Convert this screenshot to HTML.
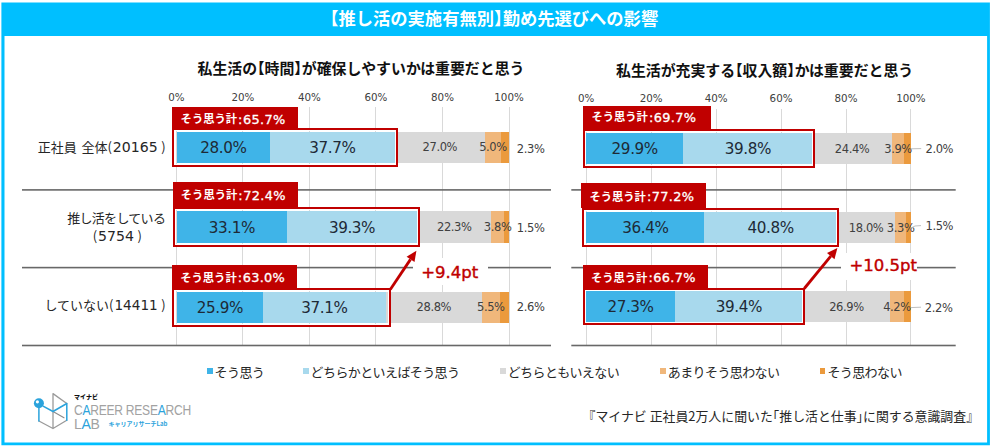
<!DOCTYPE html>
<html lang="ja"><head><meta charset="utf-8"><title>推し活の実施有無別 勤め先選びへの影響</title>
<style>
html,body{margin:0;padding:0;background:#fff}
body{width:993px;height:448px;overflow:hidden;position:relative;font-family:"Liberation Sans","Noto Sans CJK JP",sans-serif}
#c{position:absolute;left:0;top:0;width:993px;height:448px;overflow:hidden}
#c>div,#c>svg{position:absolute}
.t{white-space:nowrap;line-height:1;color:#404040}
.title{font-family:"Noto Sans CJK JP",sans-serif;font-weight:700;font-size:17.3px;color:#fff;font-feature-settings:"halt"}
.sub{font-family:"Noto Sans CJK JP",sans-serif;font-weight:700;font-size:14.9px;color:#111;font-feature-settings:"halt"}
.ax{font-family:"DejaVu Sans","Liberation Sans",sans-serif;font-size:10.3px;color:#404040}
.big{font-family:"DejaVu Sans","Liberation Sans",sans-serif;font-size:15.2px;letter-spacing:-0.4px;color:#1E2A36}
.sm{font-family:"DejaVu Sans","Liberation Sans",sans-serif;font-size:11.5px;letter-spacing:-0.4px;color:#404040}
.lab{font-family:"DejaVu Sans","Noto Sans CJK JP",sans-serif;font-weight:400;font-size:12.9px;color:#fff;-webkit-text-stroke:0.32px #fff}
.lab em{font-style:normal;letter-spacing:0.3px;margin-left:0.6px}
.lab span{font-family:"Noto Sans CJK JP",sans-serif;font-weight:700;font-size:11.3px;-webkit-text-stroke:0;margin-right:1px;position:relative;top:-0.5px}
.delta{font-family:"DejaVu Sans","Liberation Sans",sans-serif;font-weight:400;font-size:16.5px;color:#C00000;-webkit-text-stroke:0.4px #C00000}
.row{font-family:"Noto Sans CJK JP",sans-serif;font-size:13px;color:#262626}
.row{word-spacing:1.8px}
.row b{font-family:"DejaVu Sans","Liberation Sans",sans-serif;font-weight:400;font-size:14.1px}
.row i{font-style:normal;margin-right:1px}
.row u{text-decoration:none;margin-left:3.6px}
.leg{font-family:"Noto Sans CJK JP",sans-serif;font-size:13px;letter-spacing:-0.6px;color:#262626}
.foot{font-family:"Noto Sans CJK JP",sans-serif;font-size:12.9px;color:#262626;font-feature-settings:"halt"}
.mynavi{font-family:"Noto Sans CJK JP",sans-serif;font-weight:900;font-size:6px;color:#111}
.crl{font-size:14px;color:#A2A2A2;letter-spacing:-0.3px}
.crl span{display:inline-block;transform:scaleX(0.862);transform-origin:0 50%}
.crl i{font-style:normal;color:#2BA3DC}
.crlab{font-family:"Noto Sans CJK JP",sans-serif;font-weight:700;font-size:6px;color:#2BA3DC}
</style></head>
<body><div id="c">
<svg style="left:0;top:0" width="993" height="448" viewBox="0 0 993 448"><path fill="#00BFFF" fill-rule="evenodd" d="M1.4 2.5H989.9V445.3H1.4Z M4.5 36H987.1V442.4H4.5Z"/></svg>
<div class="t title" style="left:494.00px;top:18.00px;transform:translate(-50%,-50%);">【推し活の実施有無別】勤め先選びへの影響</div>
<div class="t sub" style="left:361.00px;top:68.00px;transform:translate(-50%,-50%);">私生活の【時間】が確保しやすいかは重要だと思う</div>
<div class="t sub" style="left:764.60px;top:70.40px;transform:translate(-50%,-50%);">私生活が充実する【収入額】かは重要だと思う</div>
<div style="left:175.80px;top:107.20px;width:1.00px;height:238.30px;background:#D9D9D9;"></div>
<div class="t ax" style="left:176.30px;top:96.80px;transform:translate(-50%,-50%);">0%</div>
<div style="left:242.35px;top:107.20px;width:1.00px;height:238.30px;background:#D9D9D9;"></div>
<div class="t ax" style="left:242.85px;top:96.80px;transform:translate(-50%,-50%);">20%</div>
<div style="left:308.90px;top:107.20px;width:1.00px;height:238.30px;background:#D9D9D9;"></div>
<div class="t ax" style="left:309.40px;top:96.80px;transform:translate(-50%,-50%);">40%</div>
<div style="left:375.45px;top:107.20px;width:1.00px;height:238.30px;background:#D9D9D9;"></div>
<div class="t ax" style="left:375.95px;top:96.80px;transform:translate(-50%,-50%);">60%</div>
<div style="left:442.00px;top:107.20px;width:1.00px;height:238.30px;background:#D9D9D9;"></div>
<div class="t ax" style="left:442.50px;top:96.80px;transform:translate(-50%,-50%);">80%</div>
<div style="left:508.55px;top:107.20px;width:1.00px;height:238.30px;background:#D9D9D9;"></div>
<div class="t ax" style="left:509.05px;top:96.80px;transform:translate(-50%,-50%);">100%</div>
<svg style="left:0;top:0" width="993" height="448" viewBox="0 0 993 448"><g fill="#686868"><rect x="22" y="189.10" width="529.0" height="1.6"/><rect x="22" y="266.80" width="529.0" height="1.6"/><rect x="22" y="344.70" width="529.0" height="1.6"/></g></svg>
<div style="left:413.00px;top:258.00px;width:75.00px;height:27.00px;background:#fff;"></div>
<div style="left:172.40px;top:106.60px;width:126.00px;height:22.80px;background:#C00000;"></div>
<div class="t lab" style="left:180.60px;top:119.65px;transform:translate(0,-50%);"><span>そう思う計</span>:<em>65.7%</em></div>
<div style="left:176.90px;top:132.00px;width:92.96px;height:30.60px;background:#3FB4E8;"></div>
<div style="left:269.86px;top:132.00px;width:125.16px;height:30.60px;background:#A8D9ED;"></div>
<div style="left:395.02px;top:132.00px;width:89.64px;height:30.60px;background:#D9D9D9;"></div>
<div style="left:484.66px;top:132.00px;width:16.60px;height:30.60px;background:#F0B77B;"></div>
<div style="left:501.26px;top:132.00px;width:7.64px;height:30.60px;background:#EB9A3D;"></div>
<div style="left:172.40px;top:128.40px;width:225.50px;height:38.50px;border:2.6px solid #C00000;box-sizing:border-box;box-shadow:inset 0 0 0 1px #fff;"></div>
<div class="t big" style="left:223.38px;top:149.10px;transform:translate(-50%,-50%);">28.0%</div>
<div class="t big" style="left:332.44px;top:149.10px;transform:translate(-50%,-50%);">37.7%</div>
<div class="t sm" style="left:439.84px;top:147.90px;transform:translate(-50%,-50%);">27.0%</div>
<div class="t sm" style="left:492.96px;top:147.90px;transform:translate(-50%,-50%);">5.0%</div>
<div class="t sm" style="left:516.80px;top:150.40px;transform:translate(0,-50%);">2.3%</div>
<div style="left:172.60px;top:182.20px;width:125.20px;height:25.60px;background:#C00000;"></div>
<div class="t lab" style="left:180.80px;top:195.80px;transform:translate(0,-50%);"><span>そう思う計</span>:<em>72.4%</em></div>
<div style="left:176.90px;top:211.10px;width:109.89px;height:32.20px;background:#3FB4E8;"></div>
<div style="left:286.79px;top:211.10px;width:130.48px;height:32.20px;background:#A8D9ED;"></div>
<div style="left:417.27px;top:211.10px;width:74.04px;height:32.20px;background:#D9D9D9;"></div>
<div style="left:491.30px;top:211.10px;width:12.62px;height:32.20px;background:#F0B77B;"></div>
<div style="left:503.92px;top:211.10px;width:4.98px;height:32.20px;background:#EB9A3D;"></div>
<div style="left:172.60px;top:206.80px;width:247.40px;height:40.40px;border:2.6px solid #C00000;box-sizing:border-box;box-shadow:inset 0 0 0 1px #fff;"></div>
<div class="t big" style="left:231.85px;top:229.00px;transform:translate(-50%,-50%);">33.1%</div>
<div class="t big" style="left:352.03px;top:229.00px;transform:translate(-50%,-50%);">39.3%</div>
<div class="t sm" style="left:454.29px;top:227.80px;transform:translate(-50%,-50%);">22.3%</div>
<div class="t sm" style="left:497.61px;top:227.80px;transform:translate(-50%,-50%);">3.8%</div>
<div class="t sm" style="left:516.80px;top:229.00px;transform:translate(0,-50%);">1.5%</div>
<div style="left:172.00px;top:264.50px;width:125.20px;height:24.90px;background:#C00000;"></div>
<div class="t lab" style="left:180.20px;top:278.20px;transform:translate(0,-50%);"><span>そう思う計</span>:<em>63.0%</em></div>
<div style="left:176.90px;top:292.20px;width:85.99px;height:30.80px;background:#3FB4E8;"></div>
<div style="left:262.89px;top:292.20px;width:123.17px;height:30.80px;background:#A8D9ED;"></div>
<div style="left:386.06px;top:292.20px;width:95.62px;height:30.80px;background:#D9D9D9;"></div>
<div style="left:481.68px;top:292.20px;width:18.26px;height:30.80px;background:#F0B77B;"></div>
<div style="left:499.94px;top:292.20px;width:8.96px;height:30.80px;background:#EB9A3D;"></div>
<div style="left:172.00px;top:288.40px;width:218.90px;height:38.70px;border:2.6px solid #C00000;box-sizing:border-box;box-shadow:inset 0 0 0 1px #fff;"></div>
<div class="t big" style="left:219.89px;top:309.40px;transform:translate(-50%,-50%);">25.9%</div>
<div class="t big" style="left:324.47px;top:309.40px;transform:translate(-50%,-50%);">37.1%</div>
<div class="t sm" style="left:433.87px;top:308.20px;transform:translate(-50%,-50%);">28.8%</div>
<div class="t sm" style="left:490.81px;top:308.20px;transform:translate(-50%,-50%);">5.5%</div>
<div class="t sm" style="left:516.80px;top:308.10px;transform:translate(0,-50%);">2.6%</div>
<div style="left:585.70px;top:108.60px;width:1.00px;height:236.90px;background:#D9D9D9;"></div>
<div class="t ax" style="left:586.20px;top:98.30px;transform:translate(-50%,-50%);">0%</div>
<div style="left:650.65px;top:108.60px;width:1.00px;height:236.90px;background:#D9D9D9;"></div>
<div class="t ax" style="left:651.15px;top:98.30px;transform:translate(-50%,-50%);">20%</div>
<div style="left:715.60px;top:108.60px;width:1.00px;height:236.90px;background:#D9D9D9;"></div>
<div class="t ax" style="left:716.10px;top:98.30px;transform:translate(-50%,-50%);">40%</div>
<div style="left:780.55px;top:108.60px;width:1.00px;height:236.90px;background:#D9D9D9;"></div>
<div class="t ax" style="left:781.05px;top:98.30px;transform:translate(-50%,-50%);">60%</div>
<div style="left:845.50px;top:108.60px;width:1.00px;height:236.90px;background:#D9D9D9;"></div>
<div class="t ax" style="left:846.00px;top:98.30px;transform:translate(-50%,-50%);">80%</div>
<div style="left:910.45px;top:108.60px;width:1.00px;height:236.90px;background:#D9D9D9;"></div>
<div class="t ax" style="left:910.95px;top:98.30px;transform:translate(-50%,-50%);">100%</div>
<svg style="left:0;top:0" width="993" height="448" viewBox="0 0 993 448"><g fill="#686868"><rect x="571.3" y="189.10" width="384.4" height="1.6"/><rect x="571.3" y="266.80" width="384.4" height="1.6"/><rect x="571.3" y="344.70" width="384.4" height="1.6"/></g></svg>
<div style="left:840.70px;top:253.00px;width:76.80px;height:27.00px;background:#fff;"></div>
<div style="left:583.20px;top:105.60px;width:127.80px;height:24.40px;background:#C00000;"></div>
<div class="t lab" style="left:591.40px;top:117.80px;transform:translate(0,-50%);"><span>そう思う計</span>:<em>69.7%</em></div>
<div style="left:586.20px;top:132.80px;width:97.09px;height:31.50px;background:#3FB4E8;"></div>
<div style="left:683.29px;top:132.80px;width:129.23px;height:31.50px;background:#A8D9ED;"></div>
<div style="left:812.52px;top:132.80px;width:79.23px;height:31.50px;background:#D9D9D9;"></div>
<div style="left:891.74px;top:132.80px;width:12.66px;height:31.50px;background:#F0B77B;"></div>
<div style="left:904.41px;top:132.80px;width:6.49px;height:31.50px;background:#EB9A3D;"></div>
<div style="left:583.20px;top:129.00px;width:232.10px;height:38.50px;border:2.6px solid #C00000;box-sizing:border-box;box-shadow:inset 0 0 0 1px #fff;"></div>
<div class="t big" style="left:634.74px;top:150.35px;transform:translate(-50%,-50%);">29.9%</div>
<div class="t big" style="left:747.90px;top:150.35px;transform:translate(-50%,-50%);">39.8%</div>
<div class="t sm" style="left:852.13px;top:149.85px;transform:translate(-50%,-50%);">24.4%</div>
<div class="t sm" style="left:898.07px;top:149.85px;transform:translate(-50%,-50%);">3.9%</div>
<div class="t sm" style="left:925.50px;top:150.20px;transform:translate(0,-50%);">2.0%</div>
<div style="left:581.20px;top:183.10px;width:124.80px;height:25.40px;background:#C00000;"></div>
<div class="t lab" style="left:589.40px;top:197.35px;transform:translate(0,-50%);"><span>そう思う計</span>:<em>77.2%</em></div>
<div style="left:586.20px;top:212.30px;width:118.19px;height:30.70px;background:#3FB4E8;"></div>
<div style="left:704.39px;top:212.30px;width:132.48px;height:30.70px;background:#A8D9ED;"></div>
<div style="left:836.87px;top:212.30px;width:58.45px;height:30.70px;background:#D9D9D9;"></div>
<div style="left:895.31px;top:212.30px;width:10.72px;height:30.70px;background:#F0B77B;"></div>
<div style="left:906.03px;top:212.30px;width:4.87px;height:30.70px;background:#EB9A3D;"></div>
<div style="left:582.00px;top:207.50px;width:257.20px;height:39.00px;border:2.6px solid #C00000;box-sizing:border-box;box-shadow:inset 0 0 0 1px #fff;"></div>
<div class="t big" style="left:645.30px;top:229.45px;transform:translate(-50%,-50%);">36.4%</div>
<div class="t big" style="left:770.63px;top:229.45px;transform:translate(-50%,-50%);">40.8%</div>
<div class="t sm" style="left:866.09px;top:228.95px;transform:translate(-50%,-50%);">18.0%</div>
<div class="t sm" style="left:900.67px;top:228.95px;transform:translate(-50%,-50%);">3.3%</div>
<div class="t sm" style="left:925.50px;top:227.20px;transform:translate(0,-50%);">1.5%</div>
<div style="left:582.70px;top:264.60px;width:125.80px;height:24.10px;background:#C00000;"></div>
<div class="t lab" style="left:590.90px;top:278.30px;transform:translate(0,-50%);"><span>そう思う計</span>:<em>66.7%</em></div>
<div style="left:586.20px;top:291.00px;width:88.64px;height:30.70px;background:#3FB4E8;"></div>
<div style="left:674.84px;top:291.00px;width:127.93px;height:30.70px;background:#A8D9ED;"></div>
<div style="left:802.77px;top:291.00px;width:87.34px;height:30.70px;background:#D9D9D9;"></div>
<div style="left:890.12px;top:291.00px;width:13.64px;height:30.70px;background:#F0B77B;"></div>
<div style="left:903.76px;top:291.00px;width:7.14px;height:30.70px;background:#EB9A3D;"></div>
<div style="left:582.70px;top:287.70px;width:222.70px;height:37.80px;border:2.6px solid #C00000;box-sizing:border-box;box-shadow:inset 0 0 0 1px #fff;"></div>
<div class="t big" style="left:630.52px;top:308.15px;transform:translate(-50%,-50%);">27.3%</div>
<div class="t big" style="left:738.81px;top:308.15px;transform:translate(-50%,-50%);">39.4%</div>
<div class="t sm" style="left:846.45px;top:307.65px;transform:translate(-50%,-50%);">26.9%</div>
<div class="t sm" style="left:896.94px;top:307.65px;transform:translate(-50%,-50%);">4.2%</div>
<div class="t sm" style="left:924.80px;top:308.70px;transform:translate(0,-50%);">2.2%</div>
<svg style="left:0;top:0" width="993" height="448" viewBox="0 0 993 448"><g stroke="#BFBFBF" stroke-width="1" fill="none"><path d="M910.6 148.8 L921.2 148.6"/><path d="M910.6 228.2 L915 226 L921 225.6"/><path d="M910.6 307.6 L921 307.2"/></g></svg>
<svg style="left:0;top:0" width="993" height="448" viewBox="0 0 993 448">
<path d="M390.3 289.5 L410.5 259.4" stroke="#C00000" stroke-width="2.8" fill="none"/>
<path d="M416.4 250.7 L414.5 262.1 L406.6 256.7 Z" fill="#C00000"/>
<path d="M804.3 288.5 L830.8 256.1" stroke="#C00000" stroke-width="2.8" fill="none"/>
<path d="M837.4 248.0 L834.5 259.2 L827.0 253.1 Z" fill="#C00000"/>
</svg>
<div class="t delta" style="left:449.80px;top:273.40px;transform:translate(-50%,-50%);">+9.4pt</div>
<div class="t delta" style="left:883.30px;top:266.30px;transform:translate(-50%,-50%);">+10.5pt</div>
<div class="t row" style="left:165.70px;top:146.60px;transform:translate(-100%,-50%);">正社員 全体<i>(</i><b>20165</b><u>)</u></div>
<div class="t row" style="left:116.20px;top:216.50px;transform:translate(-50%,-50%);letter-spacing:-0.7px">推し活をしている</div>
<div class="t row" style="left:117.30px;top:236.10px;transform:translate(-50%,-50%);"><i>(</i><b>5754</b><u>)</u></div>
<div class="t row" style="left:165.70px;top:305.20px;transform:translate(-100%,-50%);">していない<i>(</i><b style="font-size:13.6px">14411</b><u>)</u></div>
<div style="left:206.80px;top:368.30px;width:5.80px;height:5.80px;background:#3FB4E8;"></div>
<div class="t leg" style="left:214.60px;top:371.40px;transform:translate(0,-50%);">そう思う</div>
<div style="left:302.80px;top:368.30px;width:5.80px;height:5.80px;background:#A8D9ED;"></div>
<div class="t leg" style="left:310.60px;top:371.40px;transform:translate(0,-50%);">どちらかといえばそう思う</div>
<div style="left:499.90px;top:368.30px;width:5.80px;height:5.80px;background:#D9D9D9;"></div>
<div class="t leg" style="left:507.70px;top:371.40px;transform:translate(0,-50%);">どちらともいえない</div>
<div style="left:660.00px;top:368.30px;width:5.80px;height:5.80px;background:#F0B77B;"></div>
<div class="t leg" style="left:667.80px;top:371.40px;transform:translate(0,-50%);">あまりそう思わない</div>
<div style="left:819.60px;top:368.30px;width:5.80px;height:5.80px;background:#EB9A3D;"></div>
<div class="t leg" style="left:827.40px;top:371.40px;transform:translate(0,-50%);">そう思わない</div>
<div class="t foot" style="left:780.80px;top:415.60px;transform:translate(-50%,-50%);">『マイナビ 正社員2万人に聞いた「推し活と仕事」に関する意識調査』</div>
<svg style="left:30px;top:388px" width="45" height="46" viewBox="0 0 45 46">
<g fill="none" stroke-linecap="round" stroke-linejoin="round">
<path d="M23 5.6 L36.8 15.5 M23 5.6 L23 40.5 M36.8 32.3 L23 40.5 L8.9 33" stroke="#9A9A9A" stroke-width="1.3"/>
<path d="M23 23.5 L34 29.8" stroke="#8A8A8A" stroke-width="1.1"/>
<path d="M8.9 20 L8.9 33 M13.5 18.3 L23 23.5 L36.8 15.5 L36.8 32.3" stroke="#2BA3DC" stroke-width="1.5"/>
</g>
<circle cx="8.9" cy="15.3" r="5" fill="#2BA3DC"/><circle cx="7.4" cy="13.8" r="1.6" fill="#fff"/>
</svg>
<div class="t mynavi" style="left:74.00px;top:397.00px;transform:translate(0,-50%);">マイナビ</div>
<div class="t crl" style="left:74.00px;top:409.60px;transform:translate(0,-50%);"><span>C<i>A</i>REER RESE<i>A</i>RCH</span></div>
<div class="t crl" style="left:74.00px;top:423.50px;transform:translate(0,-50%);">L<i>A</i>B</div>
<div class="t crlab" style="left:108.50px;top:424.00px;transform:translate(0,-50%);">キャリアリサーチLab</div>
</div></body></html>
